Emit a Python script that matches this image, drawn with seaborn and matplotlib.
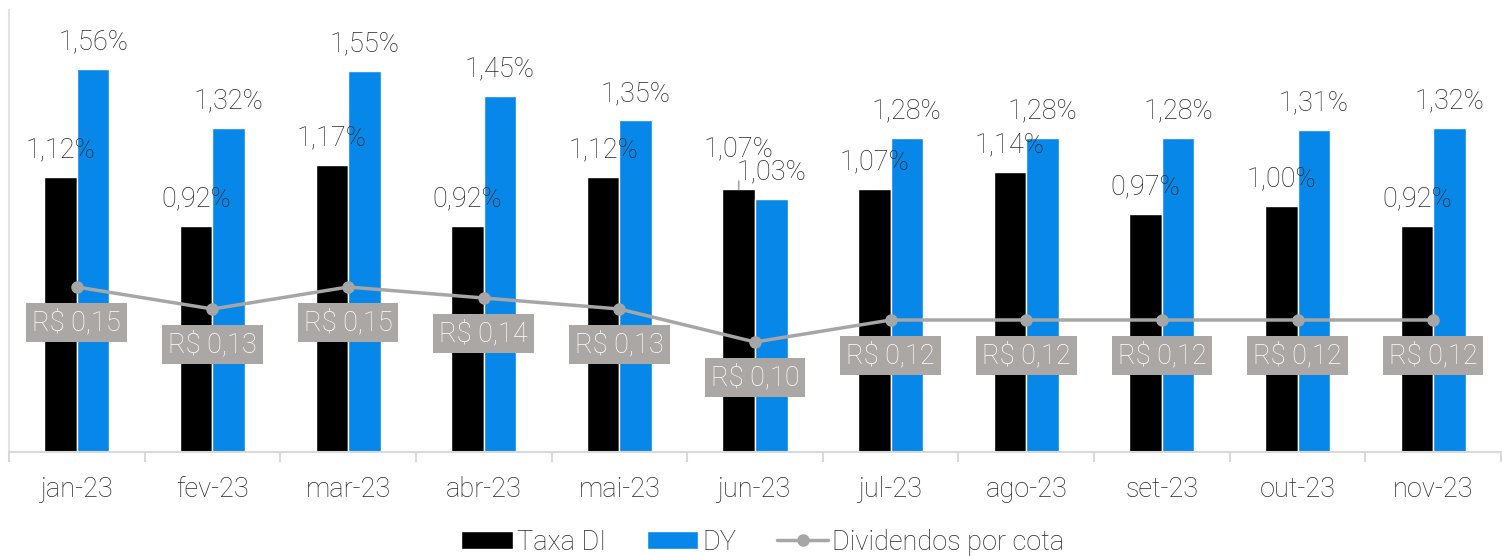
import matplotlib
matplotlib.use("Agg")
import matplotlib.pyplot as plt
import seaborn as sns
import pandas as pd
import numpy as np
from matplotlib.patches import Patch
from matplotlib.lines import Line2D

months = ["jan-23", "fev-23", "mar-23", "abr-23", "mai-23", "jun-23",
          "jul-23", "ago-23", "set-23", "out-23", "nov-23"]
taxa_di = [1.12, 0.92, 1.17, 0.92, 1.12, 1.07, 1.07, 1.14, 0.97, 1.00, 0.92]
dy = [1.56, 1.32, 1.55, 1.45, 1.35, 1.03, 1.28, 1.28, 1.28, 1.31, 1.32]
dividendos = [0.15, 0.13, 0.15, 0.14, 0.13, 0.10, 0.12, 0.12, 0.12, 0.12, 0.12]

BLACK = "#000000"
BLUE = "#0788E8"
GREY = "#A6A6A6"
BOXGREY = "#AAA7A5"
TXT = "#262626"
FS = 19.5

sns.set_theme(style="white")
plt.rcParams["font.family"] = ["Roboto", "DejaVu Sans"]

df = pd.DataFrame({"mes": months * 2,
                   "serie": ["Taxa DI"] * len(months) + ["DY"] * len(months),
                   "valor": taxa_di + dy})

fig = plt.figure(figsize=(15.02, 5.56), dpi=100)
ax = fig.add_axes([9 / 1502, (556 - 452) / 556, 1492 / 1502, 442 / 556])

sns.barplot(data=df, x="mes", y="valor", hue="serie", palette=[BLACK, BLUE],
            width=0.48, ax=ax, legend=False, saturation=1, errorbar=None)

ax.set_ylim(0, 1.80)
ax.set_xlim(-0.5, len(months) - 0.5)
ax.set_yticks([])
ax.set_xlabel("")
ax.set_ylabel("")
for s in ["top", "right"]:
    ax.spines[s].set_visible(False)
ax.spines["left"].set_color("#E3E3E3")
ax.spines["bottom"].set_color("#D9D9D9")
ax.spines["left"].set_linewidth(1.5)
ax.spines["bottom"].set_linewidth(1.5)
ax.set_xticks(np.arange(len(months) + 1) - 0.5, minor=True)
ax.tick_params(axis="x", which="minor", length=7, width=1.5, color="#D9D9D9", bottom=True)
ax.tick_params(axis="x", which="major", length=0, pad=17, labelsize=FS, labelcolor=TXT)
for lbl in ax.get_xticklabels():
    lbl.set_fontweight("light")

def fmt(v):
    return f"{v:.2f}".replace(".", ",") + "%"

bw = 0.48 / 2
for i, (a, b) in enumerate(zip(taxa_di, dy)):
    if months[i] == "jun-23":
        ax.annotate(fmt(a), xy=(i - bw / 2, a), xytext=(0, 29), textcoords="offset points",
                    ha="center", va="center", fontsize=FS, color=TXT, fontweight="light",
                    arrowprops=dict(arrowstyle="-", color=GREY, lw=1.2, shrinkA=11, shrinkB=0))
    else:
        ax.annotate(fmt(a), xy=(i - bw / 2, a), xytext=(0, 19.5), textcoords="offset points",
                    ha="center", va="center", fontsize=FS, color=TXT, fontweight="light")
    ax.annotate(fmt(b), xy=(i + bw / 2, b), xytext=(0, 19.5), textcoords="offset points",
                ha="center", va="center", fontsize=FS, color=TXT, fontweight="light")

ax2 = ax.twinx()
sns.lineplot(x=np.arange(len(months)), y=dividendos, ax=ax2, color=GREY, lw=2.5,
             marker="o", markersize=9, markeredgewidth=0, legend=False)
ax2.set_ylim(0, 442 / 1100)
ax2.set_yticks([])
ax2.set_ylabel("")
for s in ax2.spines.values():
    s.set_visible(False)
for i, v in enumerate(dividendos):
    ax2.annotate("R$ " + f"{v:.2f}".replace(".", ","), xy=(i, v), xytext=(0, -25.5),
                 textcoords="offset points", ha="center", va="center", fontsize=FS,
                 color="white", fontweight="light",
                 bbox=dict(boxstyle="square,pad=0.22", fc=BOXGREY, ec="none"))

handles = [Patch(facecolor=BLACK, label="Taxa DI"),
           Patch(facecolor=BLUE, label="DY"),
           Line2D([0], [0], color=GREY, lw=2.5, marker="o", markersize=9,
                  markeredgewidth=0, label="Dividendos por cota")]
leg = fig.legend(handles=handles, loc="center", bbox_to_anchor=(0.508, 14 / 556),
                 ncol=3, frameon=False, fontsize=FS, handlelength=1.9, handleheight=0.65,
                 handletextpad=0.15, columnspacing=1.5)
for t in leg.get_texts():
    t.set_fontweight("light")
    t.set_color(TXT)

fig.savefig("out.png", dpi=100)
